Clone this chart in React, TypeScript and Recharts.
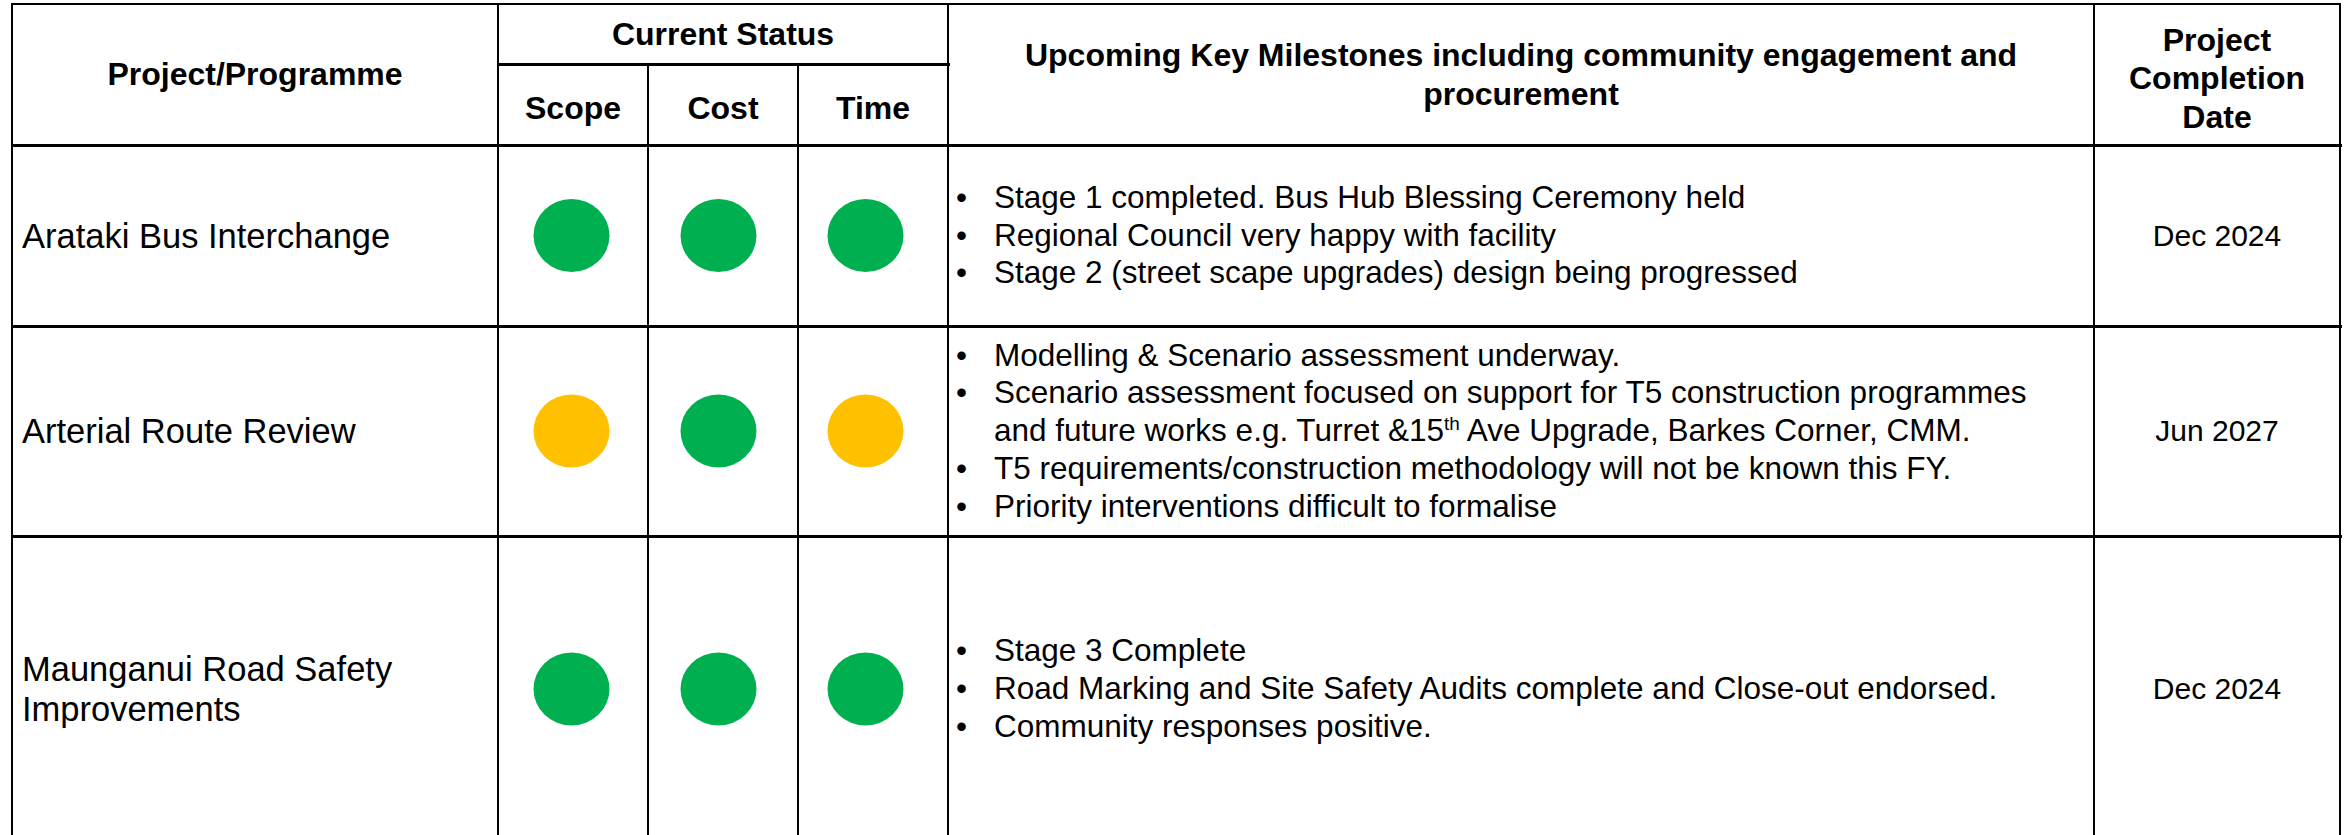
import React from 'react';
import { Scatter, ScatterChart, XAxis, YAxis } from 'recharts';

// table content
const projects = ['Arataki Bus Interchange', 'Arterial Route Review', 'Maunganui Road Safety\nImprovements'];
const metrics = ['Scope', 'Cost', 'Time'];
const scopeStatus = ['green', 'amber', 'green'];
const costStatus = ['green', 'green', 'green'];
const timeStatus = ['green', 'amber', 'green'];
const completionDates = ['Dec 2024', 'Jun 2027', 'Dec 2024'];

const milestonesArataki = [
  'Stage 1 completed. Bus Hub Blessing Ceremony held',
  'Regional Council very happy with facility',
  'Stage 2 (street scape upgrades) design being progressed',
];
const milestonesArterial = [
  'Modelling & Scenario assessment underway.',
  'Scenario assessment focused on support for T5 construction programmes\nand future works e.g. Turret &15^th^ Ave Upgrade, Barkes Corner, CMM.',
  'T5 requirements/construction methodology will not be known this FY.',
  'Priority interventions difficult to formalise',
];
const milestonesMaunganui = [
  'Stage 3 Complete',
  'Road Marking and Site Safety Audits complete and Close-out endorsed.',
  'Community responses positive.',
];
const milestones = [milestonesArataki, milestonesArterial, milestonesMaunganui];

const STATUS_COLORS: Record<string, string> = { green: '#00B050', amber: '#FFC000' };
const FONT = '"Liberation Sans", Arial, sans-serif';

// grid line positions of the table
const COLS = [12, 498, 648, 798, 948, 2094, 2340];
const TOP = 4;
const SUB = 64;
const HEAD = 145;
const ROWS = [HEAD, 326, 536, 842];

function Line({ x1, y1, x2, y2, w = 2.5 }: { x1: number; y1: number; x2: number; y2: number; w?: number }) {
  const horiz = y1 === y2;
  return (
    <div
      style={{
        position: 'absolute',
        left: x1 - w / 2,
        top: y1 - w / 2,
        width: horiz ? x2 - x1 + w : w,
        height: horiz ? w : y2 - y1 + w,
        background: '#000',
      }}
    />
  );
}

function Cell({ x1, x2, y1, y2, children, align = 'center', style }: any) {
  return (
    <div
      style={{
        position: 'absolute',
        left: x1,
        top: y1,
        width: x2 - x1,
        height: y2 - y1,
        display: 'flex',
        flexDirection: 'column',
        justifyContent: 'center',
        alignItems: align === 'center' ? 'center' : 'flex-start',
        textAlign: align,
        whiteSpace: 'nowrap',
        ...style,
      }}
    >
      {children}
    </div>
  );
}

function renderSup(text: string) {
  const parts = text.split('^');
  return parts.map((p, i) =>
    i % 2 === 1 ? (
      <sup key={i} style={{ fontSize: '0.6em', verticalAlign: '0.6em', lineHeight: 0 }}>{p}</sup>
    ) : (
      <React.Fragment key={i}>{p}</React.Fragment>
    )
  );
}

function StatusDot(props: any) {
  const { cx, cy, payload } = props;
  if (cx == null || cy == null) return null;
  return <ellipse cx={cx} cy={cy} rx={38} ry={36.5} fill={STATUS_COLORS[payload.status]} />;
}

function StatusRow({ row, height }: { row: number; height: number }) {
  const statuses = [scopeStatus[row], costStatus[row], timeStatus[row]];
  const points = metrics.map((m, i) => ({ metric: m, level: 0.5, status: statuses[i] }));
  return (
    <ScatterChart width={441} height={height} margin={{ top: 0, right: 0, bottom: 0, left: 0 }}>
      <XAxis type="category" dataKey="metric" hide allowDuplicatedCategory={false} />
      <YAxis type="number" dataKey="level" domain={[0, 1]} hide />
      <Scatter data={points} isAnimationActive={false} shape={StatusDot} />
    </ScatterChart>
  );
}

export default function App() {
  const bold = { fontWeight: 700, fontSize: 32, lineHeight: '38.5px' };
  const body = { fontSize: 31.5, lineHeight: '37.7px' };
  return (
    <div
      style={{
        position: 'absolute',
        left: 0,
        top: 0,
        width: 2351,
        height: 835,
        overflow: 'hidden',
        background: '#fff',
        fontFamily: FONT,
        color: '#000',
      }}
    >
      {/* header */}
      <Cell x1={COLS[0]} x2={COLS[1]} y1={TOP} y2={HEAD} style={bold}>Project/Programme</Cell>
      <Cell x1={COLS[1]} x2={COLS[4]} y1={TOP} y2={SUB} style={bold}>Current Status</Cell>
      {metrics.map((m, i) => (
        <Cell key={m} x1={COLS[1 + i]} x2={COLS[2 + i]} y1={SUB} y2={HEAD} style={{ ...bold, paddingTop: 4 }}>{m}</Cell>
      ))}
      <Cell x1={COLS[4]} x2={COLS[5]} y1={TOP} y2={HEAD} style={bold}>
        <div>Upcoming Key Milestones including community engagement and</div>
        <div>procurement</div>
      </Cell>
      <Cell x1={COLS[5]} x2={COLS[6]} y1={TOP} y2={HEAD} style={{ ...bold, paddingTop: 4 }}>
        <div>Project</div>
        <div>Completion</div>
        <div>Date</div>
      </Cell>

      {/* body rows */}
      {projects.map((p, r) => {
        const y1 = ROWS[r];
        const y2 = ROWS[r + 1];
        return (
          <React.Fragment key={p}>
            <Cell x1={COLS[0] + 10} x2={COLS[1]} y1={y1} y2={y2} align="left" style={{ fontSize: 34.5, lineHeight: '40px' }}>
              {p.split('\n').map((t) => (
                <div key={t}>{t}</div>
              ))}
            </Cell>
            <div style={{ position: 'absolute', left: 498, top: y1 }}>
              <StatusRow row={r} height={y2 - y1} />
            </div>
            <Cell x1={COLS[4]} x2={COLS[5]} y1={y1} y2={y2} align="left" style={body}>
              {milestones[r].map((m, i) => (
                <div key={i} style={{ position: 'relative', paddingLeft: 46 }}>
                  <span style={{ position: 'absolute', left: 8 }}>•</span>
                  {m.split('\n').map((t, j) => (
                    <div key={j}>{renderSup(t)}</div>
                  ))}
                </div>
              ))}
            </Cell>
            <Cell x1={COLS[5]} x2={COLS[6]} y1={y1} y2={y2} style={{ ...body, fontSize: 30 }}>{completionDates[r]}</Cell>
          </React.Fragment>
        );
      })}

      {/* grid lines */}
      <Line x1={COLS[0]} y1={TOP} x2={COLS[6]} y2={TOP} w={2.5} />
      <Line x1={COLS[1]} y1={SUB} x2={COLS[4]} y2={SUB} w={3} />
      {ROWS.slice(0, 3).map((y) => (
        <Line key={y} x1={COLS[0]} y1={y} x2={COLS[6]} y2={y} w={3} />
      ))}
      {[0, 1, 4, 5, 6].map((c) => (
        <Line key={c} x1={COLS[c]} y1={TOP} x2={COLS[c]} y2={850} w={2.5} />
      ))}
      {[2, 3].map((c) => (
        <Line key={c} x1={COLS[c]} y1={SUB} x2={COLS[c]} y2={850} w={2.5} />
      ))}
    </div>
  );
}
